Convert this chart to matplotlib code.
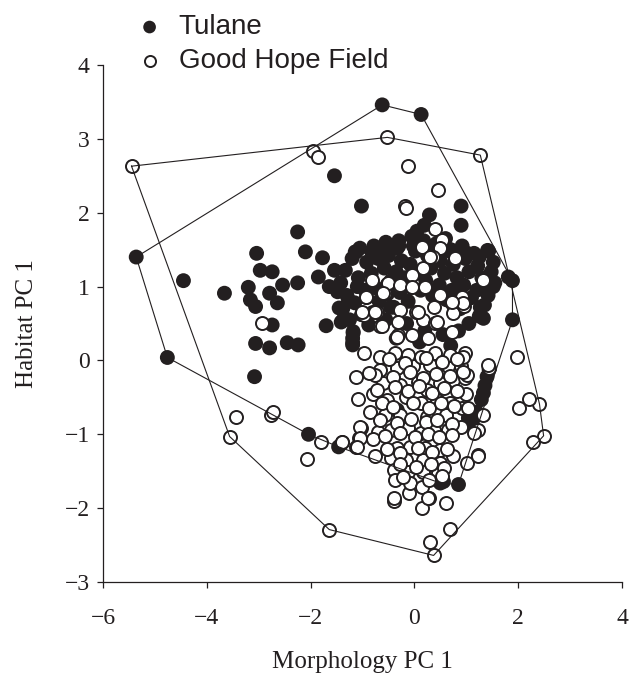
import matplotlib
matplotlib.use('Agg')
import matplotlib.pyplot as plt
import numpy as np

plt.rcParams['font.family'] = ['Liberation Serif', 'DejaVu Serif']

# Tulane (filled circles)
tulane_x = [-5.36, -4.45, -4.76, -3.66, -2.25, -2.10, -3.04, -1.02, -1.54, -0.62,
            0.13, 0.90, 0.90, 1.89, 1.89, 1.43, 1.52, 1.46,
            -2.97, -2.74, -1.77, -1.54, -1.85, -1.12, -2.25, -3.20, -2.54, -3.16,
            -3.06, -2.79, -2.64, -2.74, -3.06, -2.79, -2.45, -2.24, -3.08, -1.70,
            -1.41, -1.18, -1.19, -1.64, -1.48, -1.45, -1.27, -1.10, -2.04, -1.46,
            -1.14, -0.81, -0.60, -0.33, -0.02, 0.21, 0.45, 0.70, 1.02, 1.25,
            0.29, 0.19, 0.05, -0.30, 0.60, -1.18, 1.33, 1.41, 1.52, 1.81,
            -0.46, 0.75, 1.27, -1.37, -1.19, -1.19,
            1.40, 1.36, 1.33, 1.29, 1.44, 1.12, 1.20, 1.14, 0.85, 0.56, 0.50,
            -0.33, 1.04,
            -1.42, -1.30, -1.38, -1.25, -1.33, -1.20, -1.05, -0.92,
            -1.08, -0.95, -1.15, -1.02, -0.88, -0.78, -0.70, -0.83,
            -0.74, -0.68, -0.80, -0.55, -0.50, -0.58, -0.45, -0.52,
            -0.40, -0.30, -0.25, -0.35, -0.18, -0.28, -0.12, -0.05,
            0.02, -0.08, 0.08, 0.12, 0.18, 0.25, 0.32, 0.22,
            0.35, 0.42, 0.50, 0.58, 0.48, 0.62, 0.68, 0.75,
            0.82, 0.72, 0.88, 0.92, 0.98, 1.05, 0.95, 1.10,
            1.15, 1.22, 1.30, 1.20, 1.35, 1.48, 1.55, 1.42,
            1.25, 1.05, 0.85, 0.55, 0.20, -0.15, -0.55, 0.10,
            0.70, -0.35]
tulane_y = [1.40, 1.08, 0.04, 0.91, 1.74, 1.47, 1.45, 2.09, 2.50, 3.46,
            3.33, 2.09, 1.83, 1.08, 0.55, 1.48, 1.33, 0.98,
            1.22, 1.20, 1.39, 1.22, 1.13, 1.47, 1.05, 0.99, 1.02, 0.82,
            0.73, 0.91, 0.78, 0.48, 0.23, 0.17, 0.24, 0.21, -0.22, 0.47,
            0.52, 0.37, 0.24, 1.00, 0.93, 0.71, 0.82, 1.00, -1.00, -1.17,
            1.47, 1.45, 1.52, 1.52, 1.55, 1.50, 1.45, 1.50, 1.45, 1.40,
            1.97, 1.83, 1.75, 1.62, 1.65, 0.39, 0.57, 1.49, 1.00, 1.13,
            0.72, 0.75, 0.72, 0.55, 0.30, 0.21,
            -0.22, -0.34, -0.44, -0.53, -0.12, -0.88, -0.70, -0.78, -1.68, -1.64, -1.66,
            -0.67, -0.78,
            1.05, 0.88, 0.70, 0.55, 1.22, 1.38, 1.52, 1.33,
            1.12, 0.95, 0.78, 0.62, 0.48, 1.55, 1.38, 1.18,
            0.98, 0.80, 0.65, 1.60, 1.42, 1.25, 1.08, 0.90,
            0.72, 1.55, 1.35, 1.20, 1.12, 0.92, 0.80, 1.68,
            1.48, 1.30, 1.18, 0.95, 1.62, 1.42, 1.25, 1.08,
            0.88, 1.58, 1.35, 1.18, 1.02, 0.82, 1.48, 1.30,
            1.12, 0.95, 0.70, 1.55, 1.38, 1.20, 1.02, 0.85,
            1.45, 1.28, 1.12, 0.95, 0.75, 1.20, 1.05, 0.88,
            0.60, 0.50, 0.40, 0.35, 0.40, 0.50, 0.55, 0.25,
            0.20, 0.30]

# Good Hope Field (open circles)
ghf_x = [-5.45, -1.95, -1.85, -0.52, 1.27, -0.13, 0.46, -0.19, -0.17, 0.39,
         -2.93, -3.43, -3.56, -2.77, -2.72, -2.06, -1.79, -1.39, -1.12, -1.06,
         -1.02, -1.12, -1.08, -0.98, -1.00, -1.64, 0.37, 0.31, 0.69, 2.49,
         2.29, 2.41, 2.20, 2.02, 1.97, 1.43, 1.33, 1.23, 1.14, 1.23,
         1.02, 1.33, 0.79, 0.54, 0.50, 0.15, 0.35, 0.17, -0.06, -0.81,
         -0.52, -0.29, -0.06, 0.21, -0.94, -0.56, 0.52, 0.92, -0.98, -0.73,
         -0.66, -0.27, 0.04, 0.37, 0.73, 0.75, 0.96, 0.17, 0.39, 0.73,
         -0.04, -0.31, -0.39, 0.15, 0.60, 0.29, -0.10, 1.23,
         -0.66, -0.33, -0.02, 0.31, 0.64, 0.89, -0.60, -0.27, 0.06, 0.25,
         0.50, 0.75, 0.98, -0.52, -0.17, 0.12, 0.44, 0.69, 0.92, -0.56,
         -0.27, 0.25, 0.60, -0.71, -0.46, -0.13, 0.12, 0.37, 0.64, 0.89,
         -1.04, -1.04, -1.10, -1.39, -0.79, -0.33, -0.08, 0.21, 0.50, 0.75,
         -0.75, -0.46, -0.17, 0.17, 0.50, -0.40, -0.12, 0.17, 0.46, -0.37,
         -0.08, 0.15, -0.40, 0.27,
         0.31, -0.04, -0.50, -0.27, -0.04, 0.21, 0.50, 0.94, -0.94, -0.60,
         -1.00, -0.75, 0.06, 0.73, -0.62, -0.31, 0.44, -0.33, 0.27, -0.66,
         -0.37, -0.13, 0.12, 0.40, 0.69, 0.98, 1.41,
         0.94, 1.02, 1.00, 1.04, -0.80, -0.85, -0.75,
         -0.48, -0.18, 0.22, 0.53, 0.82,
         -0.88, -0.42, -0.08, 0.17, 0.41, 0.68, 0.93,
         -0.72, -0.38, -0.12, 0.08, 0.33, 0.58, 0.83,
         -0.63, -0.42, -0.03, 0.28, 0.52, 0.77,
         -0.67, -0.33, -0.07, 0.22, 0.43, 0.73,
         -0.57, -0.28, 0.02, 0.27, 0.48, 0.72,
         -0.53, -0.27, 0.07, 0.33, 0.63,
         -0.28, 0.03, 0.32, 0.58,
         -0.22, 0.28, 0.53]
ghf_y = [2.63, 2.83, 2.75, 3.02, 2.78, 2.63, 2.31, 2.09, 2.07, 1.78,
         0.51, -0.76, -1.03, -0.74, -0.70, -1.33, -1.10, -1.10, -1.17, -1.05,
         -0.91, -0.22, -0.52, 0.10, 0.63, -2.29, -2.64, -2.46, -2.28, -1.02,
         -1.10, -0.59, -0.52, -0.65, 0.05, -0.10, -0.74, -0.94, -0.98, -1.28,
         -1.39, 1.09, 1.39, 1.63, 1.52, 1.54, 1.40, 1.25, 1.16, 1.09,
         1.03, 1.01, 0.99, 0.99, 0.86, 0.91, 0.87, 0.86, 0.62, 0.66,
         0.46, 0.68, 0.66, 0.73, 0.78, 0.64, 0.74, 0.55, 0.51, 0.39,
         0.35, 0.35, -1.90, -2.00, -1.93, -1.86, -1.80, -1.30,
         -0.13, -0.10, -0.08, -0.06, -0.08, -0.08, -0.30, -0.33, -0.29, -0.40,
         -0.30, -0.26, -0.24, -0.53, -0.49, -0.57, -0.53, -0.57, -0.64, -0.74,
         -0.74, -0.76, -0.74, -0.97, -0.94, -0.91, -0.98, -0.94, -0.94, -0.90,
         -0.90, -1.05, -1.17, -1.10, -1.07, -1.18, -1.17, -1.18, -1.21, -1.30,
         -1.30, -1.32, -1.35, -1.35, -1.39, -1.48, -1.51, -1.51, -1.52, -1.62,
         -1.66, -1.72, -1.86, -1.86,
         1.40, 1.16, 1.05, 1.02, 1.00, 1.00, 0.89, 0.78, 0.86, 0.91,
         0.66, 0.66, 0.66, 0.79, 0.46, 0.52, 0.52, 0.32, 0.31, 0.04,
         0.10, 0.08, 0.05, 0.10, 0.08, 0.10, -0.06,
         0.05, -0.20, -0.45, -0.65, -0.45, -0.70, -0.20,
         0.02, -0.03, 0.03, -0.02, 0.02,
         -0.17, -0.22, -0.16, -0.24, -0.18, -0.21, -0.15,
         -0.40, -0.36, -0.42, -0.35, -0.44, -0.37, -0.41,
         -0.58, -0.63, -0.57, -0.64, -0.58, -0.62,
         -0.80, -0.85, -0.79, -0.84, -0.80, -0.86,
         -1.02, -0.98, -1.04, -0.99, -1.03, -1.01,
         -1.20, -1.25, -1.19, -1.24, -1.20,
         -1.40, -1.44, -1.40, -1.45,
         -1.58, -1.62, -1.57]


def convex_hull(xs, ys):
    pts = sorted(set(zip(xs, ys)))

    def cross(o, a, b):
        return (a[0] - o[0]) * (b[1] - o[1]) - (a[1] - o[1]) * (b[0] - o[0])

    lower = []
    for p in pts:
        while len(lower) >= 2 and cross(lower[-2], lower[-1], p) <= 0:
            lower.pop()
        lower.append(p)
    upper = []
    for p in reversed(pts):
        while len(upper) >= 2 and cross(upper[-2], upper[-1], p) <= 0:
            upper.pop()
        upper.append(p)
    hull = lower[:-1] + upper[:-1]
    hull.append(hull[0])
    return np.array(hull)


fig = plt.figure(figsize=(6.35, 6.82), dpi=100)
ax = fig.add_axes([0.1622, 0.1466, 0.8173, 0.7581])

ax.scatter(tulane_x, tulane_y, s=115, c='#231f20', edgecolors='none',
           zorder=2, label='Tulane')
ax.scatter(ghf_x, ghf_y, s=88, c='white', edgecolors='#231f20',
           linewidths=1.4, zorder=3, label='Good Hope Field')

for xs, ys in [(tulane_x, tulane_y), (ghf_x, ghf_y)]:
    hull = convex_hull(xs, ys)
    ax.plot(hull[:, 0], hull[:, 1], color='#231f20', lw=0.8, zorder=4)

ax.set_xlim(-6, 4)
ax.set_ylim(-3, 4)
ax.set_xticks([-6, -4, -2, 0, 2, 4])
ax.set_yticks([-3, -2, -1, 0, 1, 2, 3, 4])
for s in ['top', 'right']:
    ax.spines[s].set_visible(False)
for s in ['left', 'bottom']:
    ax.spines[s].set_linewidth(0.9)
    ax.spines[s].set_color('#231f20')
ax.tick_params(axis='both', direction='out', length=4.5, width=0.9,
               labelsize=17, colors='#231f20')
ax.tick_params(axis='x', pad=14)
ax.tick_params(axis='y', pad=5)

ax.set_xlabel('Morphology PC 1', fontsize=18, labelpad=16, color='#231f20')
ax.set_ylabel('Habitat PC 1', fontsize=18, labelpad=19, color='#231f20')

leg = ax.legend(loc='upper left', bbox_to_anchor=(0.063, 1.098), frameon=False,
                prop={'family': 'Liberation Sans', 'size': 20},
                markerscale=0.85, handletextpad=0.55, labelspacing=0.28,
                borderaxespad=0, borderpad=0, handlelength=1.0)
for t in leg.get_texts():
    t.set_color('#231f20')

fig.savefig('out.png', dpi=100)
